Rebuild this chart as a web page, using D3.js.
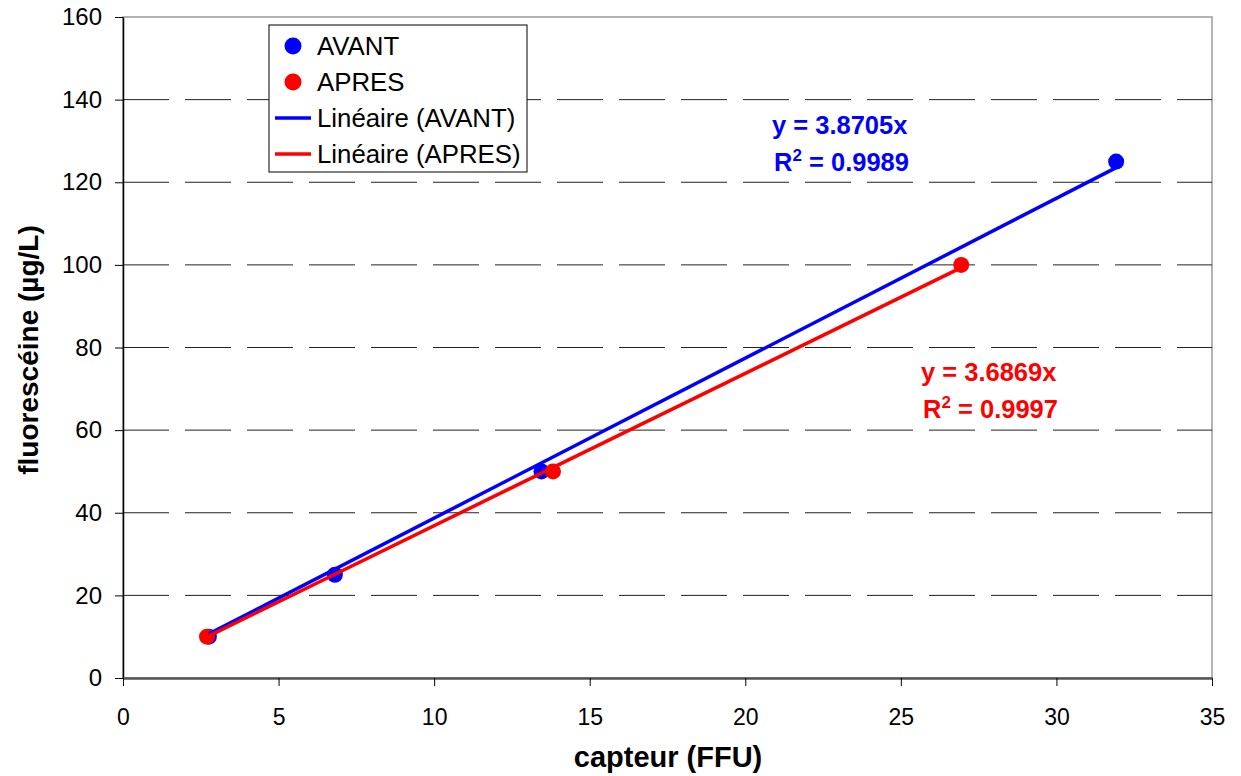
<!DOCTYPE html>
<html><head><meta charset="utf-8">
<script src="https://cdn.jsdelivr.net/npm/d3@7"></script>
<style>body{margin:0;background:#fff}svg{display:block;font-family:"Liberation Sans",Arial,sans-serif}</style>
</head><body><svg id="c" width="1241" height="776"></svg>
<script>
const avantX = [2.76, 6.81, 13.45, 31.92];
const avantY = [10, 25, 50, 125];
const apresX = [2.70, 13.82, 26.94];
const apresY = [10, 50, 100];
const slopeAvant = 3.8705, slopeApres = 3.6869;
const xTicks = [0,5,10,15,20,25,30,35];
const yTicks = [0,20,40,60,80,100,120,140,160];

const svg = d3.select("#c");
const x = d3.scaleLinear().domain([0,35]).range([123,1212]);
const y = d3.scaleLinear().domain([0,160]).range([678,17]);

// plot border
svg.append("rect").attr("x",123).attr("y",17).attr("width",1212-123).attr("height",678-17)
  .attr("fill","none").attr("stroke","#9a9a9a").attr("stroke-width",1.5);

// gridlines
svg.append("g").selectAll("line").data(yTicks.filter(d=>d>0&&d<160)).join("line")
  .attr("x1",123).attr("x2",1212).attr("y1",d=>y(d)).attr("y2",d=>y(d))
  .attr("stroke","#222").attr("stroke-width",1).attr("stroke-dasharray","46,16");

// axes
const ya = svg.append("g").attr("transform","translate(123,0)")
  .call(d3.axisLeft(y).tickValues(yTicks).tickSize(8).tickPadding(13).tickSizeOuter(0));
ya.select(".domain").attr("stroke","#000").attr("stroke-width",1.5);
ya.selectAll("line").attr("stroke","#000");
ya.selectAll("text").attr("font-size",24).attr("font-family","Liberation Sans, Arial").attr("fill","#000");

const xa = svg.append("g").attr("transform","translate(0,678)")
  .call(d3.axisBottom(x).tickValues(xTicks).tickSize(8).tickPadding(23).tickSizeOuter(0));
xa.select(".domain").attr("stroke","#555").attr("stroke-width",2.5);
xa.selectAll("line").attr("stroke","#000");
xa.selectAll("text").attr("font-size",23).attr("font-family","Liberation Sans, Arial").attr("fill","#000");

// axis titles
svg.append("text").attr("transform","translate(38,350) rotate(-90)").attr("text-anchor","middle")
  .attr("font-weight","bold").attr("font-size",28).text("fluorescéine (µg/L)");
svg.append("text").attr("x",668).attr("y",767).attr("text-anchor","middle")
  .attr("font-weight","bold").attr("font-size",29).text("capteur (FFU)");

// markers
const mk = svg.append("g");
mk.selectAll(".a").data(avantX.map((v,i)=>[v,avantY[i]])).join("circle")
  .attr("cx",d=>x(d[0])).attr("cy",d=>y(d[1])).attr("r",8).attr("fill","#0000ff");
mk.selectAll(".b").data(apresX.map((v,i)=>[v,apresY[i]])).join("circle")
  .attr("cx",d=>x(d[0])).attr("cy",d=>y(d[1])).attr("r",8).attr("fill","#ff0000");

// trendlines
function trend(xs, m, col){
  const x0 = d3.min(xs), x1 = d3.max(xs);
  svg.append("line").attr("x1",x(x0)).attr("y1",y(m*x0)).attr("x2",x(x1)).attr("y2",y(m*x1))
    .attr("stroke",col).attr("stroke-width",3.5);
}
trend(avantX, slopeAvant, "#0000ff");
trend(apresX, slopeApres, "#ff0000");

// equation labels
function eq(xp, yp, m, r2, col){
  const g = svg.append("g").attr("fill",col).attr("font-weight","bold").attr("font-size",25.5);
  g.append("text").attr("x",xp).attr("y",yp).text("y = "+m.toFixed(4)+"x");
  const t = g.append("text").attr("x",xp+2).attr("y",yp+37);
  t.append("tspan").text("R");
  t.append("tspan").attr("dy",-10).attr("font-size",17).text("2");
  t.append("tspan").attr("dy",10).text(" = "+r2);
}
eq(772, 134, slopeAvant, "0.9989", "#0000ff");
eq(921, 381, slopeApres, "0.9997", "#ff0000");

// legend
const lg = svg.append("g");
lg.append("rect").attr("x",269).attr("y",25).attr("width",258).attr("height",147)
  .attr("fill","#fff").attr("stroke","#000").attr("stroke-width",1);
const items = [["AVANT","#0000ff","dot"],["APRES","#ff0000","dot"],["Linéaire (AVANT)","#0000ff","line"],["Linéaire (APRES)","#ff0000","line"]];
items.forEach((it,i)=>{
  const cy = 46 + i*36;
  if(it[2]==="dot") lg.append("circle").attr("cx",293).attr("cy",cy).attr("r",8.5).attr("fill",it[1]);
  else lg.append("line").attr("x1",275).attr("x2",311).attr("y1",cy).attr("y2",cy).attr("stroke",it[1]).attr("stroke-width",3.5);
  lg.append("text").attr("x",317).attr("y",cy+9).attr("font-size",25.8).text(it[0]);
});
</script></body></html>
